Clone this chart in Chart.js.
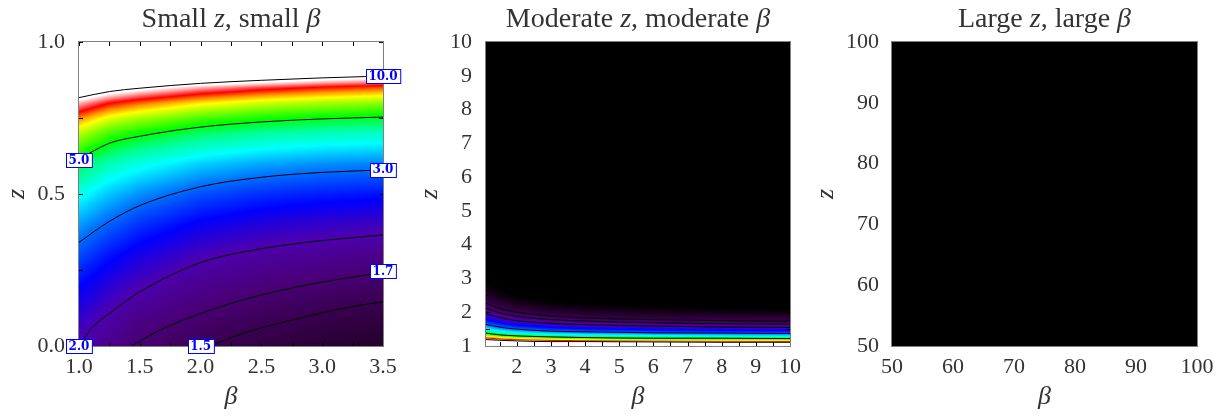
<!DOCTYPE html>
<html>
<head>
<meta charset="utf-8">
<script src="https://cdn.jsdelivr.net/npm/chart.js@4/dist/chart.umd.min.js"></script>
<style>
  body { margin: 0; background: #fff; width: 1227px; height: 418px; overflow: hidden; position: relative; }
  canvas { position: absolute; top: 0; }
</style>
</head>
<body>
<canvas id="p1" width="409" height="418" style="left:0px"></canvas>
<canvas id="p2" width="409" height="418" style="left:409px"></canvas>
<canvas id="p3" width="409" height="418" style="left:818px"></canvas>
<script>
// ---- panel 1: small z, small beta ----
const beta1 = [1.0, 1.25, 1.5, 2.0, 2.5, 3.0, 3.5];
const z1 = [0, 0.1, 0.2, 0.3, 0.4, 0.5, 0.6, 0.7, 0.75, 0.8, 0.85, 0.9, 0.95, 1.0];
const value1 = [
  [2.00, 1.83, 1.68, 1.52, 1.41, 1.33, 1.28],
  [2.21, 1.99, 1.84, 1.69, 1.57, 1.48, 1.42],
  [2.48, 2.23, 2.05, 1.85, 1.75, 1.68, 1.61],
  [2.83, 2.54, 2.33, 2.07, 1.95, 1.89, 1.83],
  [3.28, 2.95, 2.70, 2.40, 2.25, 2.17, 2.11],
  [3.90, 3.48, 3.21, 2.86, 2.68, 2.59, 2.53],
  [4.82, 4.24, 3.95, 3.55, 3.33, 3.21, 3.15],
  [6.31, 5.53, 5.16, 4.68, 4.40, 4.24, 4.15],
  [7.48, 6.60, 6.16, 5.57, 5.24, 5.05, 4.94],
  [9.21, 8.19, 7.66, 6.90, 6.46, 6.19, 6.01],
  [12.0, 10.8, 10.1, 9.11, 8.48, 8.04, 7.74],
  [17.6, 16.1, 15.0, 13.5, 12.5, 11.6, 11.1],
  [33.5, 31.5, 29.6, 26.2, 23.9, 21.9, 20.3],
  [100, 100, 100, 100, 100, 100, 100]
];
// contour lines: [beta, z]
const contours1 = [
  [[1.0, 0.817], [1.25, 0.837], [1.5, 0.848], [2.0, 0.864], [2.5, 0.874], [3.0, 0.882], [3.5, 0.888]],
  [[1.0, 0.615], [1.25, 0.667], [1.5, 0.69], [2.0, 0.72], [2.5, 0.737], [3.0, 0.747], [3.5, 0.753]],
  [[1.0, 0.341], [1.25, 0.41], [1.5, 0.462], [2.0, 0.524], [2.5, 0.555], [3.0, 0.571], [3.5, 0.579]],
  [[1.0, 0.0], [1.1, 0.058], [1.25, 0.107], [1.5, 0.178], [2.0, 0.274], [2.5, 0.32], [3.0, 0.347], [3.5, 0.365]],
  [[1.43, 0.0], [1.67, 0.053], [2.08, 0.118], [2.5, 0.168], [3.0, 0.21], [3.5, 0.242]],
  [[2.08, 0.0], [2.35, 0.042], [2.76, 0.086], [3.17, 0.124], [3.5, 0.146]]
];
const labels1 = [['10.0', 3.5, 0.887], ['5.0', 1.0, 0.612], ['3.0', 3.5, 0.58], ['1.7', 3.5, 0.247], ['2.0', 1.0, 0.0], ['1.5', 2.0, 0.0]];
const xTicks1 = [1.0, 1.5, 2.0, 2.5, 3.0, 3.5];
const xMinor1 = [1.25, 1.75, 2.25, 2.75, 3.25];
const yTicks1 = [0.0, 0.5, 1.0];
const yMinor1 = [0.25, 0.75];

// ---- panel 2: moderate z, moderate beta ----
const beta2 = [1.1, 1.5, 2, 3, 4, 6, 8, 10];
const z2 = [1.0, 1.05, 1.1, 1.15, 1.2, 1.3, 1.4, 1.5, 1.6, 1.8, 2.0, 2.25, 2.5, 3.0, 4.0, 10.0];
const value2 = [
  [100, 100, 100, 100, 100, 100, 100, 100],
  [38.2, 33.4, 30, 26.6, 25, 23.4, 22.5, 22],
  [19.1, 16.7, 15, 13.3, 12.5, 11.7, 11.3, 11],
  [12.7, 11.1, 10, 8.87, 8.33, 7.8, 7.5, 7.33],
  [9.55, 8.35, 7.5, 6.65, 6.25, 5.85, 5.63, 5.5],
  [6.37, 5.57, 5, 4.43, 4.17, 3.9, 3.75, 3.67],
  [4.78, 4.18, 3.75, 3.33, 3.13, 2.93, 2.81, 2.75],
  [3.82, 3.34, 3, 2.66, 2.5, 2.34, 2.25, 2.2],
  [3.18, 2.78, 2.5, 2.22, 2.08, 1.95, 1.88, 1.83],
  [2.39, 2.09, 1.88, 1.66, 1.56, 1.46, 1.41, 1.38],
  [1.91, 1.67, 1.5, 1.33, 1.25, 1.17, 1.13, 1.1],
  [1.53, 1.34, 1.2, 1.06, 1.0, 0.94, 0.9, 0.88],
  [1.27, 1.11, 1.0, 0.89, 0.83, 0.78, 0.75, 0.73],
  [0.96, 0.84, 0.75, 0.67, 0.63, 0.59, 0.56, 0.55],
  [0.64, 0.56, 0.5, 0.44, 0.42, 0.39, 0.38, 0.37],
  [0.21, 0.19, 0.17, 0.15, 0.14, 0.13, 0.13, 0.12]
];
const contourBeta2 = [1.1, 1.5, 2, 3, 4, 6, 8, 10];
const contourZ2 = [
  [2.27, 2.11, 2.0, 1.89, 1.83, 1.78, 1.75, 1.73],
  [2.12, 1.98, 1.88, 1.78, 1.74, 1.69, 1.66, 1.65],
  [1.96, 1.84, 1.75, 1.67, 1.63, 1.59, 1.56, 1.55],
  [1.64, 1.56, 1.5, 1.44, 1.42, 1.39, 1.38, 1.37],
  [1.38, 1.33, 1.3, 1.27, 1.25, 1.23, 1.23, 1.22],
  [1.19, 1.17, 1.15, 1.13, 1.13, 1.12, 1.11, 1.11]
];
const xTicks2 = [2, 3, 4, 5, 6, 7, 8, 9, 10];
const xMinor2 = [1.5, 2.5, 3.5, 4.5, 5.5, 6.5, 7.5, 8.5, 9.5];
const yTicks2 = [1, 2, 3, 4, 5, 6, 7, 8, 9, 10];
const yMinor2 = [1.5, 2.5, 3.5, 4.5, 5.5, 6.5, 7.5, 8.5, 9.5];

// ---- panel 3: large z, large beta ----
const beta3 = [50, 100];
const z3 = [50, 100];
const value3 = [
  [0.02, 0.02],
  [0.01, 0.01]
];
const xTicks3 = [50, 60, 70, 80, 90, 100];
const xMinor3 = [55, 65, 75, 85, 95];
const yTicks3 = [50, 60, 70, 80, 90, 100];
const yMinor3 = [55, 65, 75, 85, 95];

// colour palette over log10(value): black -> purple -> blue -> cyan -> green -> yellow -> red -> white
const paletteStops = [0, 0.1, 0.18, 0.24, 0.31, 0.39, 0.49, 0.58, 0.65, 0.71, 0.78, 0.83, 0.87, 0.91, 0.95, 0.985];
const paletteColors = ['#000000', '#220028', '#3a0052', '#4a0078', '#4c00b0', '#0000ff', '#0078ff', '#00ffff',
  '#00ff90', '#00ff00', '#90ff00', '#ffff00', '#ff9000', '#ff0000', '#ff9090', '#ffffff'];

const TEXT = '#333333';
const SERIF = "'Liberation Serif', serif";

const paletteRGB = paletteColors.map(h => [parseInt(h.slice(1, 3), 16), parseInt(h.slice(3, 5), 16), parseInt(h.slice(5, 7), 16)]);
function colorAt(t) {
  if (t <= paletteStops[0]) return paletteRGB[0];
  for (let k = 0; k < paletteStops.length - 1; k++) {
    if (t <= paletteStops[k + 1]) {
      const f = (t - paletteStops[k]) / (paletteStops[k + 1] - paletteStops[k]);
      const a = paletteRGB[k], b = paletteRGB[k + 1];
      return [a[0] + (b[0] - a[0]) * f, a[1] + (b[1] - a[1]) * f, a[2] + (b[2] - a[2]) * f];
    }
  }
  return paletteRGB[paletteRGB.length - 1];
}

function cell(arr, v) {
  let i = 0;
  while (i < arr.length - 2 && v > arr[i + 1]) i++;
  let f = (v - arr[i]) / (arr[i + 1] - arr[i]);
  return [i, Math.min(1, Math.max(0, f))];
}

// heat map under the contour lines, sampled through the chart scales
const heatPlugin = (b, z, v) => ({
  id: 'heat',
  beforeDatasetsDraw(chart) {
    const { ctx, chartArea: a, scales } = chart;
    const w = Math.round(a.right - a.left), h = Math.round(a.bottom - a.top);
    const off = document.createElement('canvas');
    off.width = w; off.height = h;
    const octx = off.getContext('2d');
    const img = octx.createImageData(w, h);
    const lv = v.map(r => r.map(x => Math.log10(x)));
    for (let j = 0; j < h; j++) {
      const [zi, zf] = cell(z, scales.y.getValueForPixel(a.top + j + 0.5));
      for (let i = 0; i < w; i++) {
        const [bi, bf] = cell(b, scales.x.getValueForPixel(a.left + i + 0.5));
        const t = (1 - zf) * ((1 - bf) * lv[zi][bi] + bf * lv[zi][bi + 1]) +
                  zf * ((1 - bf) * lv[zi + 1][bi] + bf * lv[zi + 1][bi + 1]);
        const c = colorAt(t);
        const k = (j * w + i) * 4;
        img.data[k] = c[0]; img.data[k + 1] = c[1]; img.data[k + 2] = c[2]; img.data[k + 3] = 255;
      }
    }
    octx.putImageData(img, 0, 0);
    ctx.drawImage(off, a.left, a.top);
  }
});

// frame, inward ticks, contour labels and the mixed-font title
const overlayPlugin = (p) => ({
  id: 'overlay',
  afterDatasetsDraw(chart) {
    const { ctx, chartArea: a, scales: { x, y } } = chart;
    ctx.save();
    ctx.strokeStyle = '#000';
    ctx.lineWidth = 1;
    ctx.beginPath();
    const tl = 4;
    p.xTicks.concat(p.xMinor).forEach(v => {
      const px = Math.round(x.getPixelForValue(v)) + 0.5;
      ctx.moveTo(px, a.bottom); ctx.lineTo(px, a.bottom - tl);
      ctx.moveTo(px, a.top); ctx.lineTo(px, a.top + tl);
    });
    p.yTicks.concat(p.yMinor).forEach(v => {
      const py = Math.round(y.getPixelForValue(v)) + 0.5;
      ctx.moveTo(a.left, py); ctx.lineTo(a.left + tl, py);
      ctx.moveTo(a.right, py); ctx.lineTo(a.right - tl, py);
    });
    ctx.stroke();
    ctx.strokeStyle = '#808080';
    ctx.strokeRect(a.left - 0.5, a.top - 0.5, a.right - a.left + 1, a.bottom - a.top + 1);

    ctx.font = "bold 12px 'DejaVu Serif', serif";
    ctx.textAlign = 'center';
    ctx.textBaseline = 'middle';
    (p.labels || []).forEach(([txt, bv, zv]) => {
      const cx = x.getPixelForValue(bv), cy = y.getPixelForValue(zv);
      const w = ctx.measureText(txt).width + 5, h = 14;
      const l = Math.round(cx - w / 2) + 0.5, t = Math.round(cy - h / 2) + 0.5;
      ctx.fillStyle = '#fff';
      ctx.fillRect(l, t, w, h);
      ctx.strokeStyle = '#0000ff';
      ctx.strokeRect(l, t, w, h);
      ctx.fillStyle = '#0000ff';
      ctx.fillText(txt, cx, cy + 0.5);
    });

    // title with italic symbols
    const fonts = s => (s ? 'italic ' : '') + '28px ' + SERIF;
    let total = 0;
    p.title.forEach(([s, it]) => { ctx.font = fonts(it); total += ctx.measureText(s).width; });
    let tx = (a.left + a.right) / 2 - total / 2;
    ctx.textAlign = 'left';
    ctx.textBaseline = 'alphabetic';
    ctx.fillStyle = TEXT;
    p.title.forEach(([s, it]) => { ctx.font = fonts(it); ctx.fillText(s, tx, 27); tx += ctx.measureText(s).width; });
    ctx.restore();
  }
});

function makePanel(id, p) {
  const tickFont = { family: SERIF, size: 22, lineHeight: 1.2 };
  const titleFont = { family: SERIF, size: 26, style: 'italic', lineHeight: 1 };
  return new Chart(document.getElementById(id), {
    type: 'scatter',
    data: {
      datasets: p.contours.map(c => ({
        data: c.map(([bx, zy]) => ({ x: bx, y: zy })),
        showLine: true,
        borderColor: '#000',
        borderWidth: 1,
        pointRadius: 0,
        cubicInterpolationMode: 'monotone',
        fill: false
      }))
    },
    options: {
      responsive: false,
      animation: false,
      events: [],
      layout: { padding: { left: 0, top: 42, right: 409 - p.right, bottom: 0 } },
      plugins: { legend: { display: false }, tooltip: { enabled: false } },
      scales: {
        x: {
          type: 'linear', min: p.xMin, max: p.xMax,
          afterBuildTicks: s => { s.ticks = p.xTicks.map(v => ({ value: v })); },
          afterFit: s => { s.height = 72; },
          grid: { display: false, drawTicks: false },
          border: { display: false },
          ticks: { font: tickFont, color: TEXT, padding: 8, maxRotation: 0, autoSkip: false, callback: p.fmt },
          title: { display: true, text: 'β', font: titleFont, color: TEXT, padding: { top: 0, bottom: 8 } }
        },
        y: {
          type: 'linear', min: p.yMin, max: p.yMax,
          afterBuildTicks: s => { s.ticks = p.yTicks.map(v => ({ value: v })); },
          afterFit: s => { s.width = p.left; },
          grid: { display: false, drawTicks: false },
          border: { display: false },
          ticks: { font: tickFont, color: TEXT, padding: p.tickPad, autoSkip: false, callback: p.fmt },
          title: { display: true, text: 'z', font: titleFont, color: TEXT, padding: { top: p.zPad, bottom: 0 } }
        }
      }
    },
    plugins: [heatPlugin(p.b, p.z, p.v), overlayPlugin(p)]
  });
}

makePanel('p1', {
  b: beta1, z: z1, v: value1, contours: contours1, labels: labels1,
  xMin: 1.0, xMax: 3.5, yMin: 0, yMax: 1,
  xTicks: xTicks1, xMinor: xMinor1, yTicks: yTicks1, yMinor: yMinor1,
  left: 79, right: 383, tickPad: 14, zPad: 4,
  fmt: v => Number(v).toFixed(1),
  title: [['Small ', false], ['z', true], [', small ', false], ['β', true]]
});

makePanel('p2', {
  b: beta2, z: z2, v: value2,
  contours: contourZ2.map(row => row.map((zz, i) => [contourBeta2[i], zz])),
  labels: [],
  xMin: 1.1, xMax: 10, yMin: 1, yMax: 10,
  xTicks: xTicks2, xMinor: xMinor2, yTicks: yTicks2, yMinor: yMinor2,
  left: 77, right: 381, tickPad: 14, zPad: 8,
  fmt: v => String(v),
  title: [['Moderate ', false], ['z', true], [', moderate ', false], ['β', true]]
});

makePanel('p3', {
  b: beta3, z: z3, v: value3, contours: [], labels: [],
  xMin: 50, xMax: 100, yMin: 50, yMax: 100,
  xTicks: xTicks3, xMinor: xMinor3, yTicks: yTicks3, yMinor: yMinor3,
  left: 74, right: 379, tickPad: 13, zPad: -5,
  fmt: v => String(v),
  title: [['Large ', false], ['z', true], [', large ', false], ['β', true]]
});
</script>
</body>
</html>
